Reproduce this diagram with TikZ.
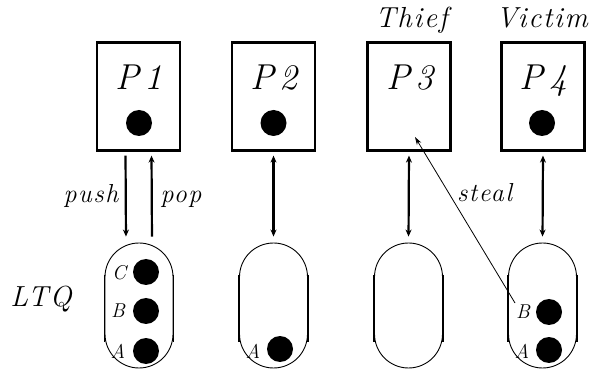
\documentclass[tikz,border=0pt]{standalone}
\usepackage{fontspec}
\newfontfamily\mif{Latin Modern Roman}[LetterSpace=6]
\usetikzlibrary{arrows.meta}
\begin{document}
\begin{tikzpicture}[x=1pt,y=-1pt,
  proc/.style={draw, line width=2.2pt, minimum width=83pt, minimum height=108pt, inner sep=0pt},
  blob/.style={circle, fill=black, minimum size=26pt, inner sep=0pt},
  capsule/.style={draw, line width=0.9pt, rounded corners=34pt, minimum width=68pt, minimum height=125pt, inner sep=0pt},
  side/.style={line width=1.8pt},
  arr/.style={line width=2.2pt, -{Stealth[length=7pt,width=6pt]}},
  darr/.style={line width=2.2pt, {Stealth[length=7pt,width=6pt]}-{Stealth[length=7pt,width=6pt]}},
  thin/.style={line width=0.8pt, -{Stealth[length=8pt,width=5pt]}},
  plab/.style={anchor=base, inner sep=0pt, font=\fontsize{36}{40}\selectfont\mif\itshape},
  tlab/.style={anchor=base, inner sep=0pt, font=\fontsize{29}{32}\selectfont\mif\itshape},
  alab/.style={anchor=base, inner sep=0pt, font=\fontsize{26}{28}\selectfont\mif\itshape},
  slab/.style={anchor=base, inner sep=0pt, font=\fontsize{20}{22}\selectfont\mif\itshape}
]
\useasboundingbox (0,0) rectangle (589,379);

% processor boxes
\node[proc] (b1) at (138.5,96.5) {};
\node[proc] (b2) at (273.5,96.5) {};
\node[proc] (b3) at (409,96.5) {};
\node[proc] (b4) at (543,96.5) {};

\node[plab] (l1) at (139,90) {P\,1};
\node[plab] (l2) at (274,90) {P\,2};
\node[plab] (l3) at (410,90) {P\,3};
\node[plab] (l4) at (543.5,90) {P\,4};

\node[blob] (d1) at (139,123) {};
\node[blob] (d2) at (273.5,123) {};
\node[blob] (d4) at (542,123) {};

\node[tlab] (thief) at (411.5,28) {Thief};
\node[tlab] (victim) at (542,28) {Victim};

% queues
\node[capsule] (c1) at (139,305.5) {};
\node[capsule] (c2) at (273.5,305.5) {};
\node[capsule] (c3) at (408.5,305.5) {};
\node[capsule] (c4) at (542.5,305.5) {};

\foreach \c in {c1,c2,c3,c4}{
  \draw[side] ([yshift=-32pt]\c.north west) -- ([yshift=26pt]\c.south west);
  \draw[side] ([yshift=-32pt]\c.north east) -- ([yshift=26pt]\c.south east);
}

\node[tlab] (ltq) at (41,307) {LTQ};

\node[blob] (q1c) at (146,272) {};
\node[blob] (q1b) at (146,311) {};
\node[blob] (q1a) at (146,351) {};
\node[slab] (t1c) at (119,280) {C};
\node[slab] (t1b) at (118,317) {B};
\node[slab] (t1a) at (118,358) {A};

\node[blob] (q2a) at (280,349) {};
\node[slab] (t2a) at (253,358) {A};

\node[blob] (q4b) at (549,312) {};
\node[blob] (q4a) at (549,350) {};
\node[slab] (t4b) at (523,319) {B};
\node[slab] (t4a) at (522,358) {A};

% connectors
\draw[arr, shorten <=4pt, shorten >=6pt] ([xshift=-13pt]b1.south) -- ([xshift=-13pt]c1.north);
\draw[arr, shorten <=6pt, shorten >=4pt] ([xshift=13pt]c1.north) -- ([xshift=13pt]b1.south);
\draw[darr, shorten <=4pt, shorten >=6pt] (b2.south) -- (c2.north);
\draw[darr, shorten <=4pt, shorten >=6pt] (b3.south) -- (c3.north);
\draw[darr, shorten <=4pt, shorten >=6pt] (b4.south) -- (c4.north);

\node[alab] (push) at (91,203) {push};
\node[alab] (pop) at (181,203) {pop};

\coordinate (sfrom) at (515,303);
\coordinate (sto) at (415,137);
\draw[thin] (sfrom) -- (sto);
\node[alab] (steal) at (484.5,202) {steal};

\end{tikzpicture}
\end{document}
